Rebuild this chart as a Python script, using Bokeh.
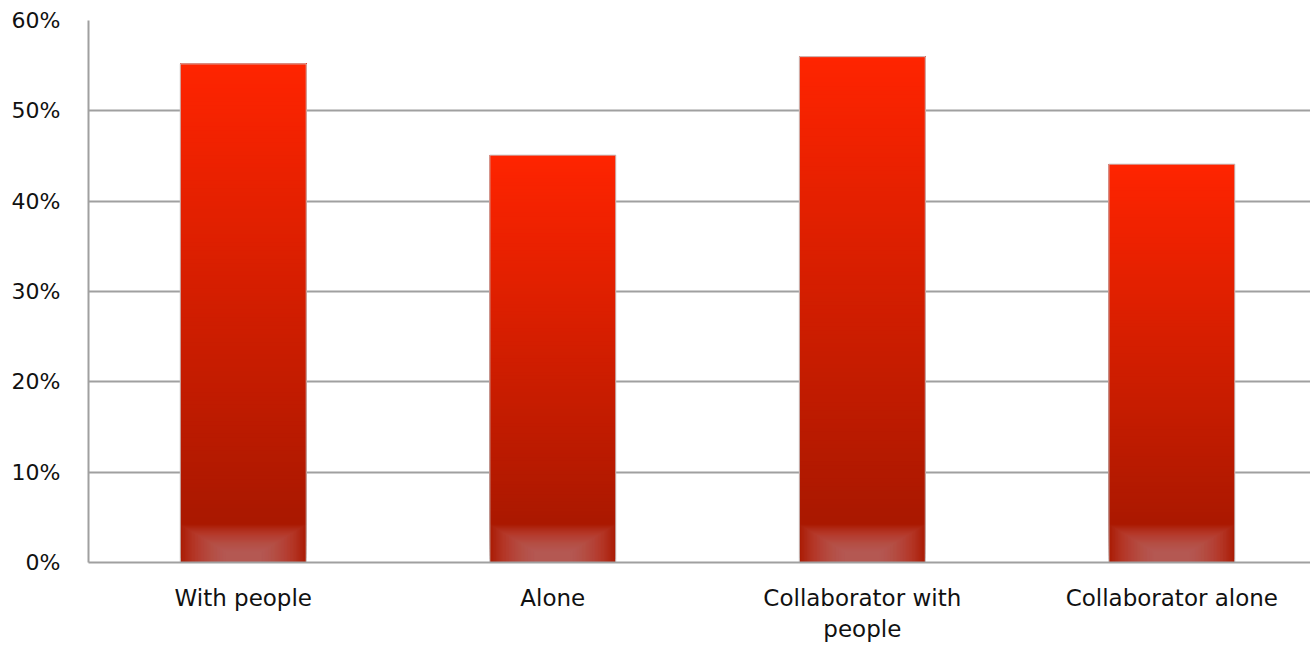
import numpy as np
from bokeh.plotting import figure
from bokeh.models import Range1d, FixedTicker, ColumnDataSource
from bokeh.embed import file_html
from bokeh.resources import INLINE

categories = ["With people", "Alone", "Collaborator with\npeople", "Collaborator alone"]
values = [0.552, 0.451, 0.560, 0.441]
y_ticks = [0, 0.1, 0.2, 0.3, 0.4, 0.5, 0.6]
y_tick_labels = ["0%", "10%", "20%", "30%", "40%", "50%", "60%"]

FONT = "DejaVu Sans"
BAR_W = 0.407
xs = [i + 0.5 for i in range(len(categories))]

p = figure(frame_width=1222, frame_height=542, output_backend="svg", toolbar_location=None,
           x_range=Range1d(0, 3.948), y_range=Range1d(0, 0.6),
           min_border_left=88, min_border_right=0, min_border_top=20, min_border_bottom=5)
p.outline_line_color = None
p.background_fill_color = "white"
p.border_fill_color = "white"

# vertical gradient slices for each bar (each slice runs to the bar top, drawn bottom-up)
top_col = np.array([255, 36, 0])
bot_col = np.array([170, 24, 0])
N = 120
L, R, B, T, C = [], [], [], [], []
for x, v in zip(xs, values):
    edges = np.linspace(0, v, N + 1)
    for k in range(N):
        b = edges[k]
        mid = (edges[k] + edges[k + 1]) / 2
        f = min(1.0, max(0.0, (mid / v - 0.09) / 0.91))
        col = bot_col + (top_col - bot_col) * f
        c = "#%02x%02x%02x" % tuple(int(round(cc)) for cc in col)
        L.append(x - BAR_W / 2); R.append(x + BAR_W / 2); B.append(b); T.append(v); C.append(c)
src = ColumnDataSource(dict(left=L, right=R, bottom=B, top=T, color=C))
p.quad(left="left", right="right", bottom="bottom", top="top", fill_color="color",
       line_color=None, source=src)

# bottom glossy glow: stacked translucent layers, narrower and lower each step
M = 32
GL, GR, GT = [], [], []
for x in xs:
    for j in range(M):
        inset = BAR_W * 0.36 * j / (M - 1)
        GL.append(x - BAR_W / 2 + inset); GR.append(x + BAR_W / 2 - inset)
        GT.append(0.042 - 0.030 * j / (M - 1))
p.quad(left=GL, right=GR, bottom=0, top=GT, fill_color="#cc8585", fill_alpha=0.038, line_color=None)

p.vbar(x=xs, top=values, width=BAR_W, fill_color=None, line_color="#c8c8c8", line_width=1)

# axes
p.xgrid.grid_line_color = None
p.ygrid.grid_line_color = "#a0a0a0"
p.ygrid.grid_line_width = 2
p.ygrid.ticker = FixedTicker(ticks=y_ticks)
p.ygrid.level = "underlay"

p.yaxis.ticker = FixedTicker(ticks=y_ticks)
p.yaxis.major_label_overrides = {t: l for t, l in zip(y_ticks, y_tick_labels)}
p.yaxis.axis_line_color = "#a0a0a0"
p.yaxis.axis_line_width = 2
p.yaxis.major_tick_line_color = None
p.yaxis.minor_tick_line_color = None
p.yaxis.major_label_standoff = 22
p.yaxis.major_label_text_font = FONT
p.yaxis.major_label_text_font_size = "22px"
p.yaxis.major_label_text_color = "#111111"

p.xaxis.ticker = FixedTicker(ticks=xs)
p.xaxis.major_label_overrides = {x: c for x, c in zip(xs, categories)}
p.xaxis.axis_line_color = "#a0a0a0"
p.xaxis.axis_line_width = 2
p.xaxis.major_tick_line_color = None
p.xaxis.minor_tick_line_color = None
p.xaxis.major_label_standoff = 16
p.xaxis.major_label_text_font = FONT
p.xaxis.major_label_text_font_size = "23px"
p.xaxis.major_label_text_color = "#111111"

open("out.html", "w").write(file_html(p, INLINE))
